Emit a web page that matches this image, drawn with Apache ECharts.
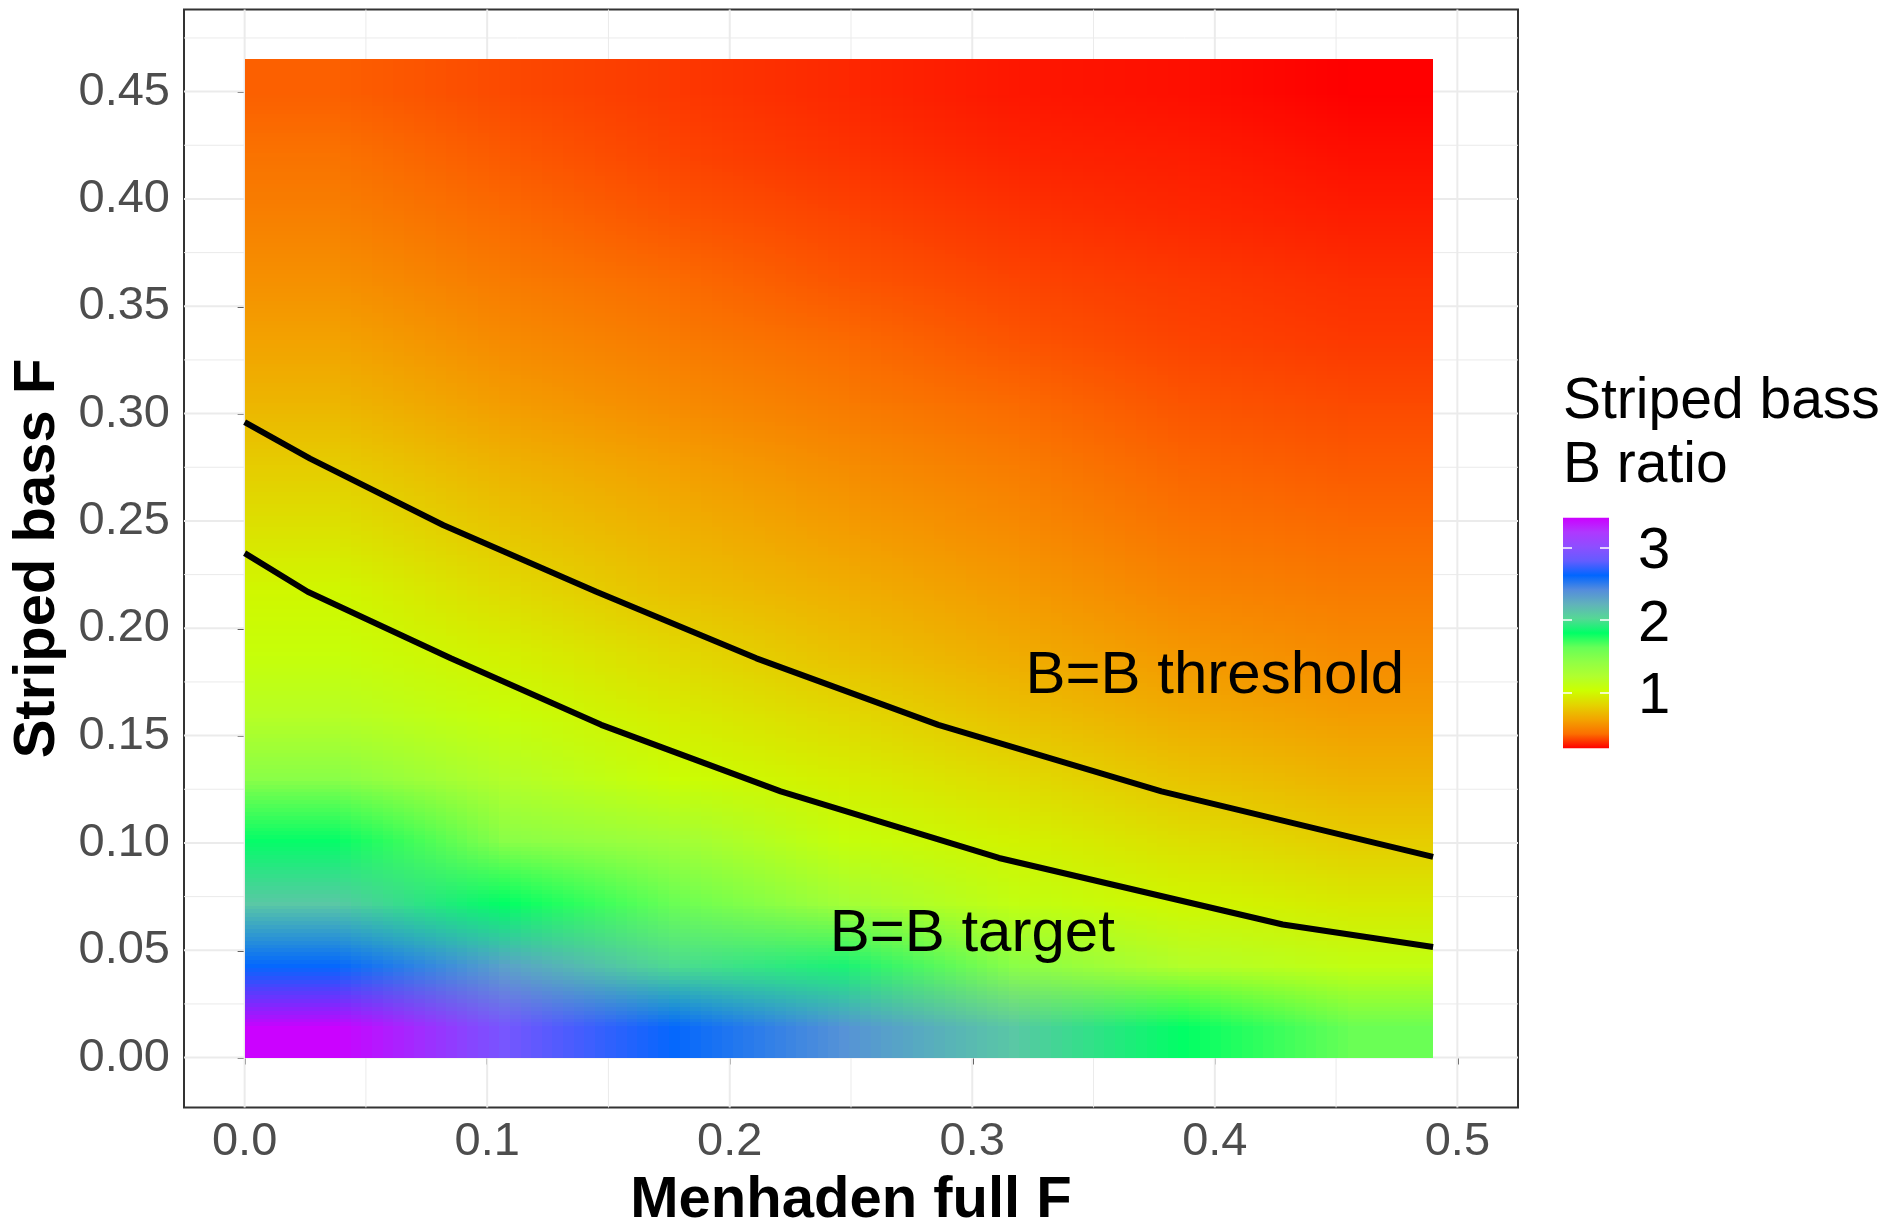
<!DOCTYPE html>
<html>
<head>
<meta charset="utf-8">
<script src="https://cdn.jsdelivr.net/npm/echarts@6/dist/echarts.min.js"></script>
<style>
  html, body { margin: 0; padding: 0; background: #fff; overflow: hidden; }
  #chart { width: 1897px; height: 1222px; }
</style>
</head>
<body>
<div id="chart"></div>
<script>
// model grid
const menhadenF = [0, 0.0817, 0.1633, 0.245, 0.3267, 0.4083, 0.49];
const stripedBassF = [0, 0.031, 0.062, 0.093, 0.124, 0.155, 0.186, 0.217, 0.248,
  0.279, 0.31, 0.341, 0.372, 0.403, 0.434, 0.465];

// striped bass B ratio: one row per striped bass F (low -> high), one value per menhaden F
const bRatio = [
  [3.40, 2.90, 2.60, 2.38, 2.10, 1.82, 1.60],
  [2.60, 2.30, 2.00, 1.88, 1.45, 1.20, 1.10],
  [2.10, 1.82, 1.60, 1.30, 1.10, 0.99, 0.93],
  [1.83, 1.45, 1.32, 1.07, 0.97, 0.88, 0.80],
  [1.45, 1.20, 1.04, 0.95, 0.86, 0.76, 0.69],
  [1.18, 1.06, 0.94, 0.85, 0.75, 0.66, 0.60],
  [1.06, 0.96, 0.85, 0.75, 0.66, 0.58, 0.53],
  [0.99, 0.86, 0.75, 0.67, 0.59, 0.51, 0.47],
  [0.89, 0.77, 0.68, 0.60, 0.53, 0.45, 0.42],
  [0.80, 0.69, 0.61, 0.54, 0.48, 0.41, 0.39],
  [0.70, 0.60, 0.53, 0.47, 0.42, 0.38, 0.36],
  [0.62, 0.53, 0.47, 0.42, 0.38, 0.35, 0.33],
  [0.55, 0.47, 0.42, 0.38, 0.35, 0.33, 0.31],
  [0.49, 0.42, 0.38, 0.35, 0.32, 0.30, 0.28],
  [0.44, 0.39, 0.35, 0.32, 0.29, 0.28, 0.255],
  [0.40, 0.36, 0.33, 0.30, 0.27, 0.255, 0.228]
];

// reference point contours [menhaden F, striped bass F]
const thresholdLine = [[0, 0.296], [0.027, 0.279], [0.082, 0.248], [0.145, 0.217],
  [0.211, 0.186], [0.286, 0.155], [0.378, 0.124], [0.49, 0.0935]];
const targetLine = [[0, 0.235], [0.026, 0.217], [0.085, 0.186], [0.147, 0.155],
  [0.221, 0.124], [0.311, 0.093], [0.428, 0.062], [0.49, 0.0515]];

const lineLabels = ['B=B threshold', 'B=B target'];
const lineLabelPos = [[0.40, 0.1775], [0.30, 0.0575]];

const xTicks = [0, 0.1, 0.2, 0.3, 0.4, 0.5];
const xMinor = [0.05, 0.15, 0.25, 0.35, 0.45];
const yTicks = [0, 0.05, 0.1, 0.15, 0.2, 0.25, 0.3, 0.35, 0.4, 0.45];
const yMinor = [0.025, 0.075, 0.125, 0.175, 0.225, 0.275, 0.325, 0.375, 0.425, 0.475];
const legendTicks = [1, 2, 3];

const xRange = [-0.025, 0.525];
const yRange = [-0.02325, 0.48825];
const ratioRange = [0.228, 3.408];
const ratioColors = ['#FF0000', '#FB6F00', '#F3A400', '#E4D300', '#CCFF00', '#B0FF2F',
  '#90FF45', '#66FF57', '#00FF66', '#55D895', '#61B2BB', '#548CDD', '#0066FF',
  '#645CFF', '#8E4EFF', '#AF38FF', '#CC00FF'];

const FONT = 'Liberation Sans, Arial, sans-serif';

const ratioColor = v => {
  const t = (v - ratioRange[0]) / (ratioRange[1] - ratioRange[0]);
  return echarts.color.lerp(Math.min(1, Math.max(0, t)), ratioColors);
};

// small bitmap, one pixel per model run, stretched (smoothly) over the grid extent
const raster = document.createElement('canvas');
raster.width = menhadenF.length;
raster.height = stripedBassF.length;
const rctx = raster.getContext('2d');
bRatio.forEach((row, i) => {
  row.forEach((v, j) => {
    rctx.fillStyle = ratioColor(v);
    rctx.fillRect(j, raster.height - 1 - i, 1, 1);
  });
});

const gridLines = [
  ...xTicks.map(v => [0, v, 2]),
  ...xMinor.map(v => [0, v, 1]),
  ...yTicks.map(v => [1, v, 2]),
  ...yMinor.map(v => [1, v, 1])
];

const chart = echarts.init(document.getElementById('chart'), null, { renderer: 'canvas' });

const legendAxis = (position) => ({
  type: 'value',
  gridIndex: 1,
  position: position,
  min: ratioRange[0],
  max: ratioRange[1],
  z: 10,
  axisLine: { show: false },
  splitLine: { show: false },
  axisTick: {
    show: true, inside: true, length: 9, customValues: legendTicks,
    lineStyle: { color: '#ffffff', width: 1.5 }
  },
  axisLabel: { show: false }
});

const option = {
  animation: false,
  backgroundColor: '#ffffff',
  textStyle: { fontFamily: FONT },
  grid: [
    {
      left: 184, top: 9.5, width: 1334, height: 1098, outerBoundsMode: 'none', containLabel: false,
      show: true, borderColor: '#333333', borderWidth: 2, backgroundColor: 'transparent'
    },
    { left: 1563, top: 517.7, width: 46, height: 230.6, show: false, outerBoundsMode: 'none', containLabel: false }
  ],
  xAxis: [
    {
      type: 'value', gridIndex: 0, min: xRange[0], max: xRange[1],
      name: 'Menhaden full F', nameLocation: 'middle', nameGap: 64,
      nameTextStyle: { fontSize: 58, fontWeight: 'bold', color: '#000000', fontFamily: FONT },
      axisLine: { show: false },
      splitLine: { show: false },
      axisTick: { show: true, length: 7, customValues: xTicks, lineStyle: { color: '#333333', width: 2 } },
      axisLabel: {
        customValues: xTicks, margin: 11, fontSize: 47, color: '#4D4D4D', fontFamily: FONT,
        formatter: v => v.toFixed(1)
      }
    },
    { type: 'value', gridIndex: 1, min: 0, max: 1, show: false }
  ],
  yAxis: [
    {
      type: 'value', gridIndex: 0, min: yRange[0], max: yRange[1],
      name: 'Striped bass F', nameLocation: 'middle', nameGap: 117, nameRotate: 90,
      nameTextStyle: { fontSize: 58, fontWeight: 'bold', color: '#000000', fontFamily: FONT },
      axisLine: { show: false },
      splitLine: { show: false },
      axisTick: { show: true, length: 7, customValues: yTicks, lineStyle: { color: '#333333', width: 2 } },
      axisLabel: {
        customValues: yTicks, margin: 14, fontSize: 47, color: '#4D4D4D', fontFamily: FONT,
        formatter: v => v.toFixed(2)
      }
    },
    legendAxis('left'),
    legendAxis('right')
  ],
  graphic: [
    {
      type: 'text', left: 1563, top: 370,
      style: {
        text: 'Striped bass\nB ratio', fontSize: 57, lineHeight: 64,
        fill: '#000000', fontFamily: FONT
      }
    }
  ],
  series: [
    {
      // panel grid lines
      type: 'custom', xAxisIndex: 0, yAxisIndex: 0, z: 1, silent: true,
      data: gridLines,
      encode: { x: 1, y: 1 },
      renderItem: (params, api) => {
        const v = api.value(1);
        const vertical = api.value(0) === 0;
        const a = vertical ? api.coord([v, yRange[0]]) : api.coord([xRange[0], v]);
        const b = vertical ? api.coord([v, yRange[1]]) : api.coord([xRange[1], v]);
        return {
          type: 'line',
          shape: { x1: a[0], y1: a[1], x2: b[0], y2: b[1] },
          style: { stroke: '#EBEBEB', lineWidth: api.value(2) }
        };
      }
    },
    {
      // B ratio surface
      type: 'custom', xAxisIndex: 0, yAxisIndex: 0, z: 2, silent: true,
      data: [[menhadenF[0], stripedBassF[0], menhadenF[menhadenF.length - 1], stripedBassF[stripedBassF.length - 1]]],
      renderItem: (params, api) => {
        const p0 = api.coord([api.value(0), api.value(3)]);
        const p1 = api.coord([api.value(2), api.value(1)]);
        return {
          type: 'image',
          style: { image: raster, x: p0[0], y: p0[1], width: p1[0] - p0[0], height: p1[1] - p0[1] }
        };
      }
    },
    {
      name: 'threshold', type: 'line', xAxisIndex: 0, yAxisIndex: 0, z: 3,
      data: thresholdLine, symbol: 'none', silent: true,
      lineStyle: { color: '#000000', width: 6 }
    },
    {
      name: 'target', type: 'line', xAxisIndex: 0, yAxisIndex: 0, z: 3,
      data: targetLine, symbol: 'none', silent: true,
      lineStyle: { color: '#000000', width: 6 }
    },
    {
      type: 'custom', xAxisIndex: 0, yAxisIndex: 0, z: 4, silent: true,
      data: lineLabelPos,
      renderItem: (params, api) => {
        const p = api.coord([api.value(0), api.value(1)]);
        return {
          type: 'text', x: p[0], y: p[1],
          style: {
            text: lineLabels[params.dataIndex], fontSize: 60, fill: '#000000',
            fontFamily: FONT, align: 'center', verticalAlign: 'middle'
          }
        };
      }
    },
    {
      // colour bar of the legend
      type: 'custom', xAxisIndex: 1, yAxisIndex: 1, z: 2, silent: true,
      data: [[0, ratioRange[0], 1, ratioRange[1]]],
      renderItem: (params, api) => {
        const p0 = api.coord([api.value(0), api.value(3)]);
        const p1 = api.coord([api.value(2), api.value(1)]);
        const stops = ratioColors.map((c, i) => ({ offset: i / (ratioColors.length - 1), color: c }));
        return {
          type: 'rect',
          shape: { x: p0[0], y: p0[1], width: p1[0] - p0[0], height: p1[1] - p0[1] },
          style: { fill: new echarts.graphic.LinearGradient(0, 1, 0, 0, stops) }
        };
      }
    },
    {
      // legend labels, placed on the legend's value scale
      type: 'custom', xAxisIndex: 1, yAxisIndex: 1, z: 5, silent: true,
      data: legendTicks.map(v => [1, v]),
      renderItem: (params, api) => {
        const p = api.coord([api.value(0), api.value(1)]);
        return {
          type: 'text', x: p[0] + 29, y: p[1] + 5,
          style: {
            text: String(api.value(1)), fontSize: 58, fill: '#000000',
            fontFamily: FONT, align: 'left', verticalAlign: 'middle'
          }
        };
      }
    }
  ]
};

chart.setOption(option);
window.addEventListener('resize', () => chart.resize());
</script>
</body>
</html>
